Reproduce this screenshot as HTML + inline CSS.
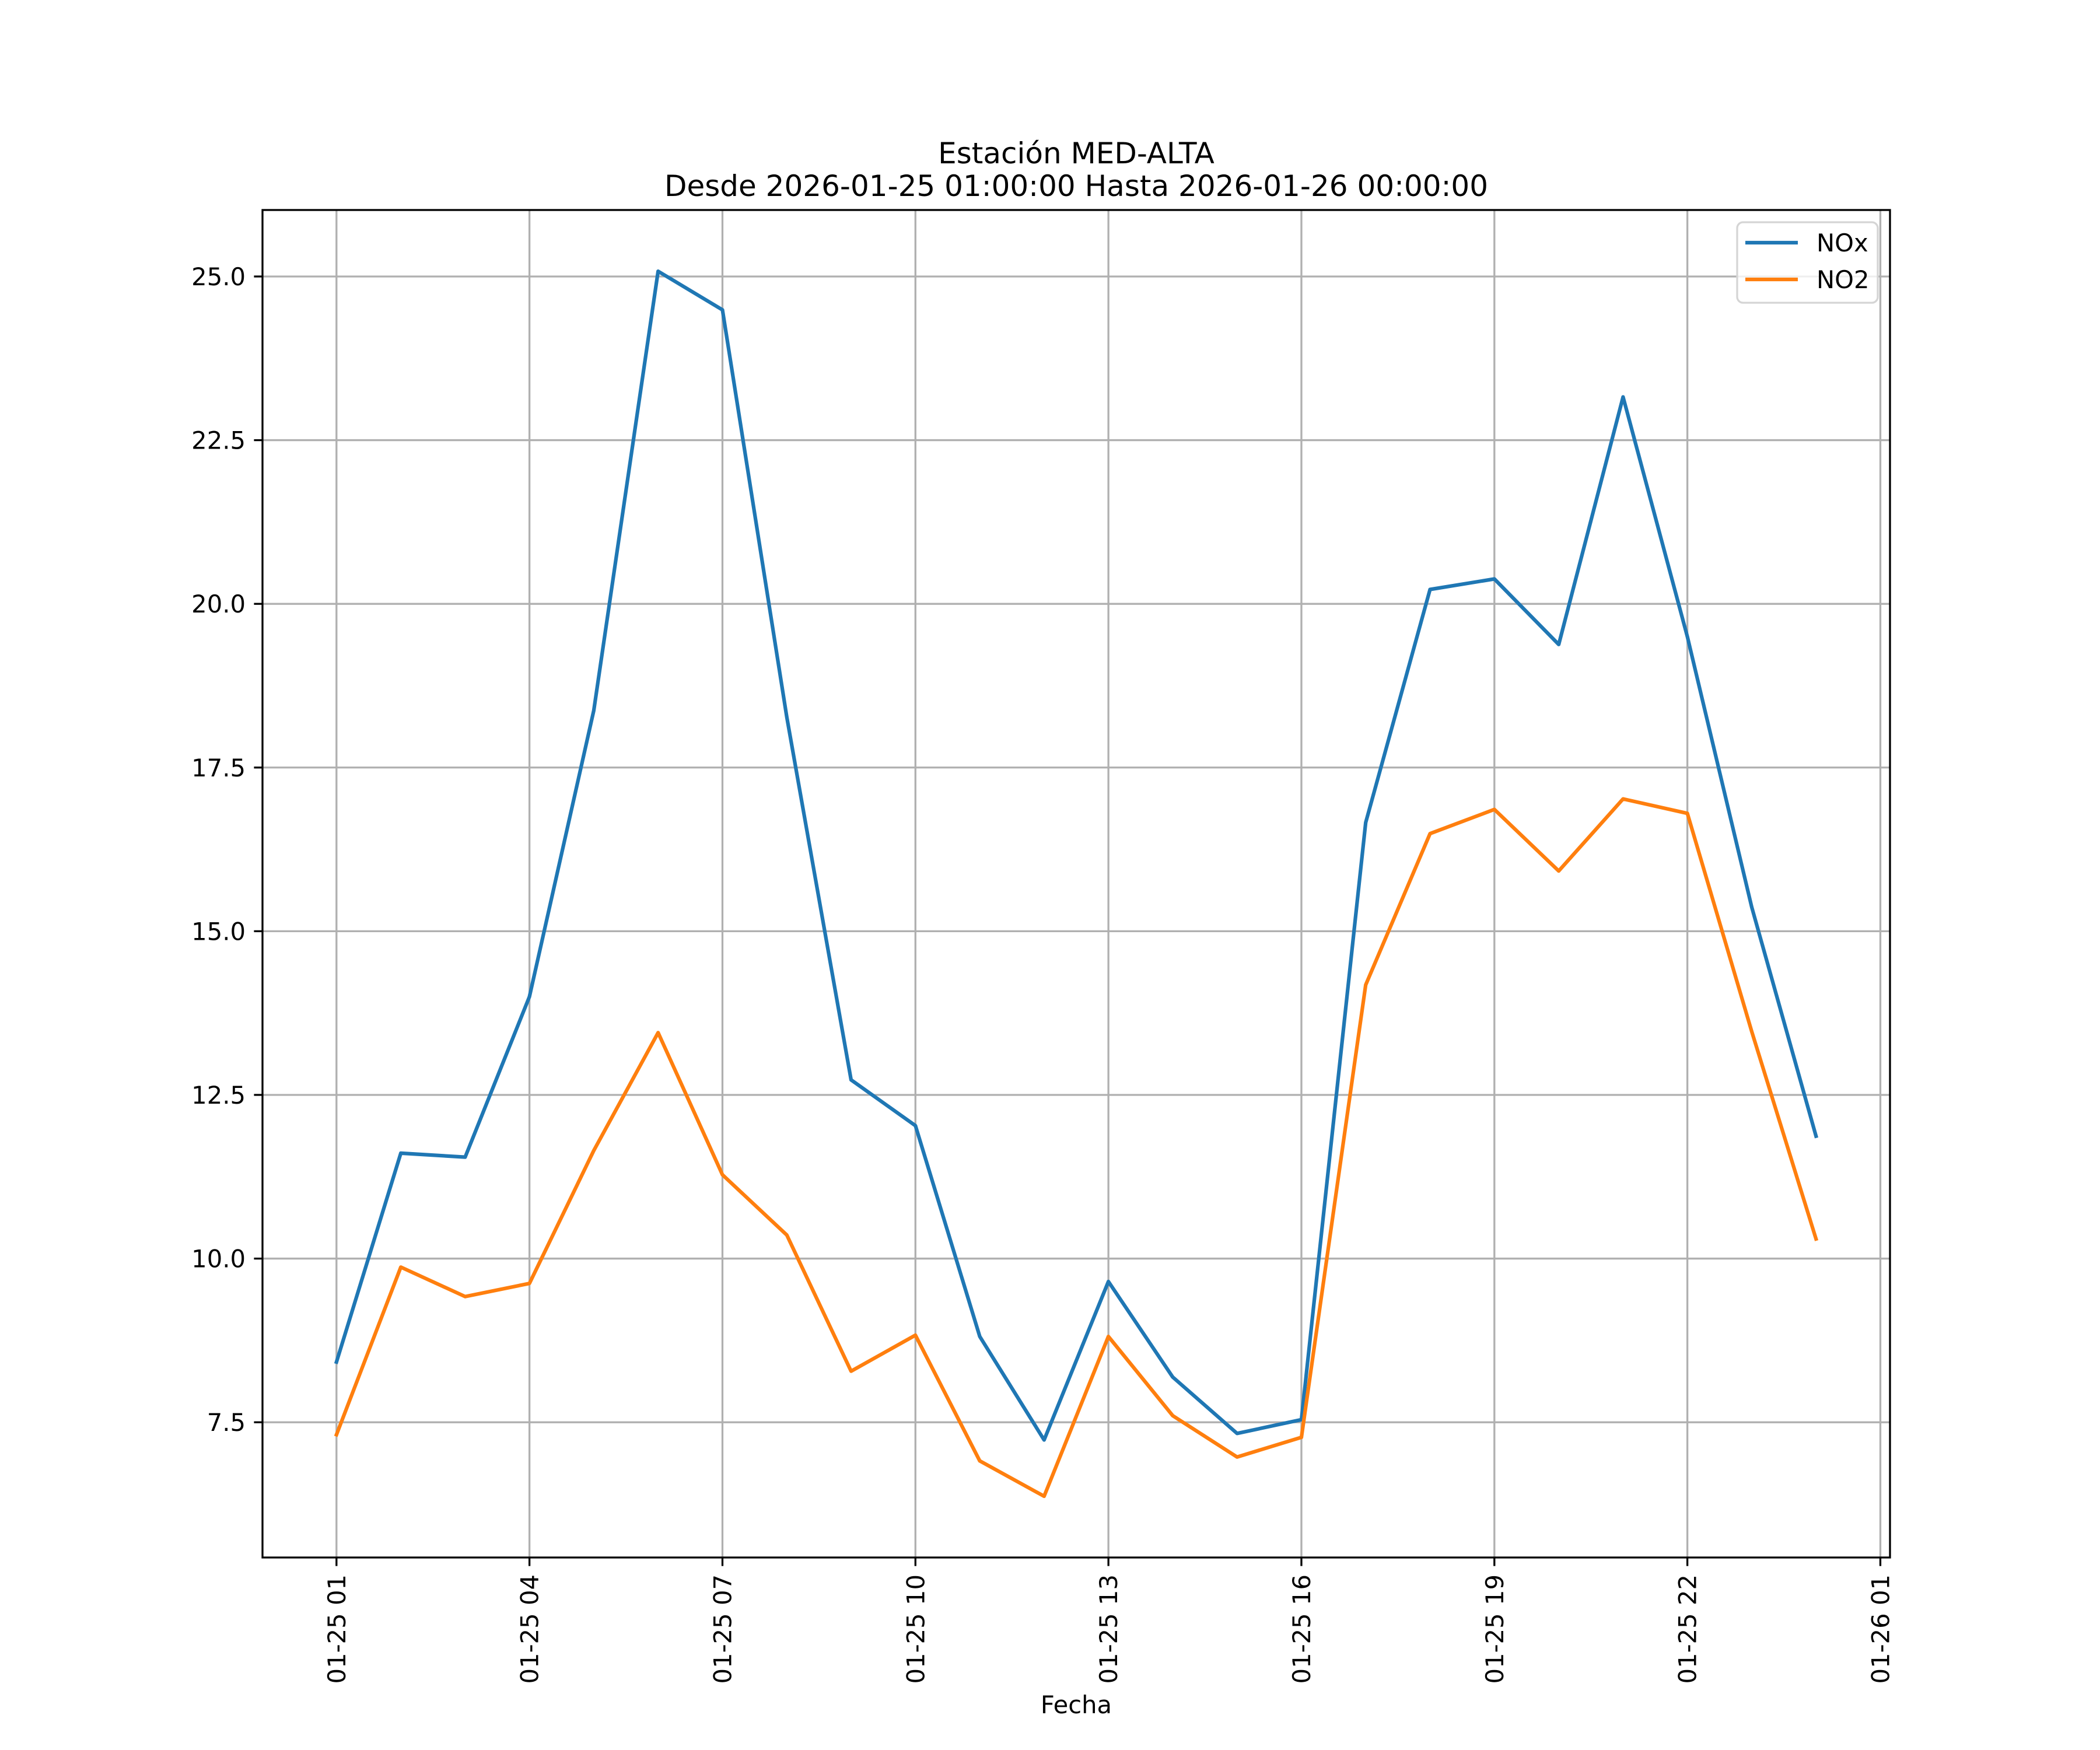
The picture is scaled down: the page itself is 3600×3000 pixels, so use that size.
<!DOCTYPE html>
<html><head><meta charset="utf-8"><style>
html,body{margin:0;padding:0;background:#fff}
svg{display:block}
text{font-family:"DejaVu Sans","Liberation Sans",sans-serif}
</style></head><body>
<svg id="chart" width="3600" height="3000" viewBox="0 0 3600 3000" xmlns="http://www.w3.org/2000/svg">
<rect width="3600" height="3000" fill="#fff"/>
<text x="1845" y="280" font-size="50" text-anchor="middle">Estación MED-ALTA</text>
<text x="1845" y="336" font-size="50" text-anchor="middle">Desde 2026-01-25 01:00:00 Hasta 2026-01-26 00:00:00</text>
<g id="grid"></g>
<g id="series"></g>
<rect x="450" y="360" width="2790" height="2310" fill="none" stroke="#000" stroke-width="3.3"/>
<g id="ticks"></g>
<text x="1845" y="2937" font-size="41.7" text-anchor="middle">Fecha</text>
<g>
<rect x="2978" y="381" width="241" height="138" rx="10" fill="#fff" fill-opacity="0.8" stroke="#d5d5d5" stroke-width="3.3"/>
<line x1="2992" y1="416" x2="3082" y2="416" stroke="#1f77b4" stroke-width="6.25"/>
<text x="3114" y="431" font-size="41.7">NOx</text>
<line x1="2992" y1="479" x2="3082" y2="479" stroke="#ff7f0e" stroke-width="6.25"/>
<text x="3114" y="494" font-size="41.7">NO2</text>
</g>
</svg>
<script>
const hours = [1,2,3,4,5,6,7,8,9,10,11,12,13,14,15,16,17,18,19,20,21,22,23,24];
const noxValues = [8.42,11.61,11.55,14.0,18.37,25.08,24.49,18.27,12.73,12.03,8.81,7.23,9.65,8.19,7.33,7.54,16.66,20.22,20.38,19.38,23.16,19.50,15.37,11.87];
const no2Values = [7.31,9.87,9.42,9.62,11.65,13.45,11.28,10.36,8.28,8.83,6.91,6.37,8.81,7.60,6.97,7.27,14.18,16.49,16.86,15.92,17.02,16.80,13.47,10.30];
const xTickHours = [1,4,7,10,13,16,19,22,25];
const xTickLabels = ["01-25 01","01-25 04","01-25 07","01-25 10","01-25 13","01-25 16","01-25 19","01-25 22","01-26 01"];
const yTickValues = [7.5,10,12.5,15,17.5,20,22.5,25];
const yTickLabels = ["7.5","10.0","12.5","15.0","17.5","20.0","22.5","25.0"];

const NS = "http://www.w3.org/2000/svg";
const L = 450, R = 3240, T = 360, B = 2670;
const all = noxValues.concat(no2Values);
const ymin0 = Math.min(...all), ymax0 = Math.max(...all);
const ym = (ymax0 - ymin0) * 0.05;
const ymin = ymin0 - ym, ymax = ymax0 + ym;
const xmin0 = hours[0], xmax0 = hours[hours.length - 1];
const xm = (xmax0 - xmin0) * 0.05;
const xmin = xmin0 - xm, xmax = xmax0 + xm;
function xs(h){ return L + (h - xmin) / (xmax - xmin) * (R - L); }
function ys(v){ return B - (v - ymin) / (ymax - ymin) * (B - T); }
function mk(tag, attrs, parent){ const e = document.createElementNS(NS, tag); for (const k in attrs) e.setAttribute(k, attrs[k]); parent.appendChild(e); return e; }

const grid = document.getElementById('grid');
const ticks = document.getElementById('ticks');
xTickHours.forEach((h, i) => {
  const x = xs(h);
  const g = mk('line', {x1:x, y1:T, x2:x, y2:B, stroke:'#b0b0b0', 'stroke-width':3.3}, grid);
  
  
  const t = mk('line', {x1:x, y1:B, x2:x, y2:B+14.6, stroke:'#000', 'stroke-width':3.3}, ticks);
  
  
  const lb = mk('text', {x:0, y:0, 'font-size':41.7, 'text-anchor':'end', transform:'translate(' + (x + 15) + ',' + (B + 29) + ') rotate(-90)'}, ticks);
  lb.textContent = xTickLabels[i];
  
  
});
yTickValues.forEach((v, i) => {
  const y = ys(v);
  const g = mk('line', {x1:L, y1:y, x2:R, y2:y, stroke:'#b0b0b0', 'stroke-width':3.3}, grid);
  
  
  const t = mk('line', {x1:L-14.6, y1:y, x2:L, y2:y, stroke:'#000', 'stroke-width':3.3}, ticks);
  
  
  const lb = mk('text', {x:L-29, y:y+15, 'font-size':41.7, 'text-anchor':'end'}, ticks);
  lb.textContent = yTickLabels[i];
  
  
});

const series = document.getElementById('series');
function drawLine(vals, color, name){
  const pts = vals.map((v, i) => xs(hours[i]).toFixed(1) + ',' + ys(v).toFixed(1)).join(' ');
  const p = mk('polyline', {points:pts, fill:'none', stroke:color, 'stroke-width':6.25, 'stroke-linejoin':'round', 'stroke-linecap':'square'}, series);
  
  
}
drawLine(noxValues, '#1f77b4', 'nox-line');
drawLine(no2Values, '#ff7f0e', 'no2-line');
</script>
</body></html>
